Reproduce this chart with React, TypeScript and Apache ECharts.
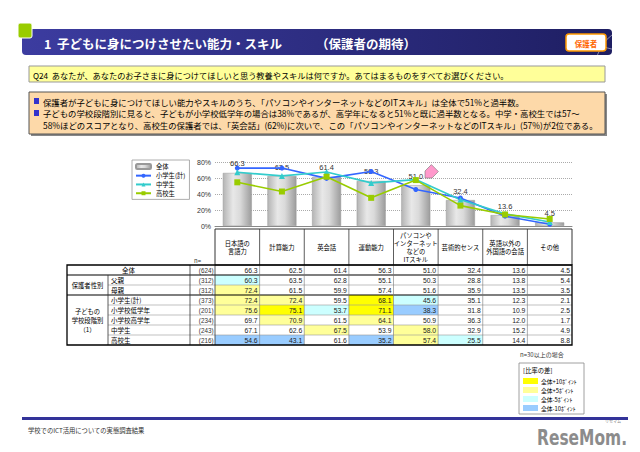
import React, { useEffect, useRef } from 'react';
import * as echarts from 'echarts';

// ---------- data ----------
const categories = [
  '日本語の\n言語力',
  '計算能力',
  '英会話',
  '運動能力',
  'パソコンや\nインターネット\nなどの\nITスキル',
  '芸術的センス',
  '英語以外の\n外国語の会話',
  'その他',
];
const totalValues = [66.3, 62.5, 61.4, 56.3, 51.0, 32.4, 13.6, 4.5];
const fatherValues = [60.3, 63.5, 62.8, 55.1, 50.3, 28.8, 13.8, 5.4];
const motherValues = [72.4, 61.5, 59.9, 57.4, 51.6, 35.9, 13.5, 3.5];
const elementaryValues = [72.4, 72.4, 59.5, 68.1, 45.6, 35.1, 12.3, 2.1];
const lowerElementaryValues = [75.6, 75.1, 53.7, 71.1, 38.3, 31.8, 10.9, 2.5];
const upperElementaryValues = [69.7, 70.9, 61.5, 64.1, 50.9, 36.3, 12.0, 1.7];
const juniorHighValues = [67.1, 62.6, 67.5, 53.9, 58.0, 32.9, 15.2, 4.9];
const highSchoolValues = [54.6, 43.1, 61.6, 35.2, 57.4, 25.5, 14.4, 8.8];

const rowLabels = ['全体', '父親', '母親', '小学生(計)', '小学校低学年', '小学校高学年', '中学生', '高校生'];
const rowCounts = ['(624)', '(312)', '(312)', '(373)', '(201)', '(234)', '(243)', '(216)'];
const rowValues = [
  totalValues,
  fatherValues,
  motherValues,
  elementaryValues,
  lowerElementaryValues,
  upperElementaryValues,
  juniorHighValues,
  highSchoolValues,
];
const seriesNames = ['全体', '小学生(計)', '中学生', '高校生'];
const yTicks = [0, 20, 40, 60, 80];
const diffLegend = ['全体+10ﾎﾟｲﾝﾄ', '全体+5ﾎﾟｲﾝﾄ', '全体-5ﾎﾟｲﾝﾄ', '全体-10ﾎﾟｲﾝﾄ'];

// ---------- style ----------
const JP = '"Noto Sans CJK JP", "Noto Sans", sans-serif';
const NUM = '"Liberation Sans", Arial, sans-serif';
const C_Y10 = '#FFFF00';
const C_Y5 = '#FFFF99';
const C_B5 = '#CCFFFF';
const C_B10 = '#99CCFF';
const diffColors = [C_Y10, C_Y5, C_B5, C_B10];

function buildOption() {
  const g: any[] = [];
  const rect = (x: number, y: number, w: number, h: number, style: any, extra: any = {}) =>
    g.push({ type: 'rect', shape: { x, y, width: w, height: h, r: extra.r || 0 }, style, silent: true, z: extra.z || 0 });
  const line = (x1: number, y1: number, x2: number, y2: number, stroke: string, lw: number, z = 1) =>
    g.push({ type: 'line', shape: { x1, y1, x2, y2 }, style: { stroke, lineWidth: lw }, silent: true, z });
  const text = (x: number, y: number, t: string, o: any = {}) =>
    g.push({
      type: 'text',
      x,
      y,
      scaleX: o.scaleX || 1,
      silent: true,
      z: o.z || 2,
      style: {
        text: t,
        fontSize: o.size || 8,
        fontFamily: o.font || JP,
        fontWeight: o.weight || 'normal',
        fill: o.fill || '#000',
        align: o.align || 'left',
        verticalAlign: o.valign || 'middle',
        lineHeight: o.lh,
      },
    });

  // ---- title bar ----
  rect(22, 29, 590, 26, {
    fill: new echarts.graphic.LinearGradient(0, 0, 1, 0, [
      { offset: 0, color: '#3C3CA0' },
      { offset: 1, color: '#1E1E62' },
    ]),
  }, { r: 4 });
  g.push({ type: 'arc', shape: { cx: 640, cy: 70, r: 45, startAngle: Math.PI * 1.05, endAngle: Math.PI * 1.3 }, style: { stroke: 'rgba(255,255,255,0.6)', lineWidth: 0.8, fill: 'none' }, silent: true, z: 1 });
  g.push({ type: 'arc', shape: { cx: 620, cy: 10, r: 40, startAngle: Math.PI * 0.55, endAngle: Math.PI * 0.75 }, style: { stroke: 'rgba(255,255,255,0.6)', lineWidth: 0.8, fill: 'none' }, silent: true, z: 1 });
  rect(18, 23, 14, 15, { fill: '#99CC00', stroke: '#fff', lineWidth: 1 }, { r: 2, z: 1 });
  text(44, 43, '1', { size: 12.5, weight: 'bold', fill: '#fff' });
  text(57, 43, '子どもに身につけさせたい能力・スキル', { size: 12.5, weight: 'bold', fill: '#fff' });
  text(316, 43, '（保護者の期待）', { size: 12.5, weight: 'bold', fill: '#fff' });
  rect(566, 34, 40, 17, { fill: '#fff', stroke: '#FF9900', lineWidth: 1.5 }, { r: 3, z: 1 });
  text(586, 43, '保護者', { size: 7.5, weight: 'bold', fill: '#FF6600', align: 'center' });

  // ---- question box ----
  rect(29, 66, 576, 16, { fill: '#FFFF99', stroke: '#999', lineWidth: 1 });
  text(33, 74.5, 'Q24  あなたが、あなたのお子さまに身につけてほしいと思う教養やスキルは何ですか。あてはまるものをすべてお選びください。', { size: 8.2 });

  // ---- summary box ----
  rect(31, 94, 576, 42, { fill: '#888' });
  rect(29, 92, 576, 42, { fill: '#FDD9A9', stroke: '#555', lineWidth: 1 }, { z: 1 });
  rect(34, 98, 5, 6, { fill: '#3333CC' }, { z: 2 });
  rect(34, 110, 5, 6, { fill: '#3333CC' }, { z: 2 });
  text(43, 101.5, '保護者が子どもに身につけてほしい能力やスキルのうち、「パソコンやインターネットなどのITスキル」は全体で51%と過半数。', { size: 8.4 });
  text(43, 113, '子どもの学校段階別に見ると、子どもが小学校低学年の場合は38%であるが、高学年になると51%と既に過半数となる。中学・高校生では57～', { size: 8.4 });
  text(43, 124.5, '58%ほどのスコアとなり、高校生の保護者では、「英会話」(62%)に次いで、この「パソコンやインターネットなどのITスキル」(57%)が2位である。', { size: 8.4 });

  // ---- pink arrow ----
  g.push({
    type: 'polygon',
    shape: { points: [[425, 178], [432, 178], [438.4, 171.6], [431.4, 164.6], [425, 171]] },
    style: { fill: '#FF99CC', stroke: '#777', lineWidth: 0.6 },
    silent: true,
    z: 10,
  });

  // ---- table ----
  const tL = 67, tG = 108, tN = 190, tD = 215, tR = 572;
  const colW = (tR - tD) / categories.length;
  const hTop = 229, hBot = 265, rowH = 10;
  const tBot = hBot + rowH * rowLabels.length;

  // header
  rect(tD, hTop, tR - tD, hBot - hTop, { fill: '#fff', stroke: '#333', lineWidth: 1 });
  categories.forEach((c, i) => {
    const x = tD + colW * i;
    if (i > 0) line(x, hTop, x, hBot, '#333', 0.8);
    text(x + colW / 2, (hTop + hBot) / 2, c, { size: 6.3, align: 'center', lh: 8 });
  });
  text(194, 260, 'n=', { size: 6, fill: '#333' });

  // cell backgrounds
  rowValues.forEach((vals, r) => {
    const y = hBot + r * rowH;
    vals.forEach((v, i) => {
      const d = v - totalValues[i];
      let fill = '';
      if (r > 0) {
        if (d >= 10) fill = C_Y10;
        else if (d >= 5) fill = C_Y5;
        else if (d <= -10) fill = C_B10;
        else if (d <= -5) fill = C_B5;
      }
      if (fill) rect(tD + colW * i, y, colW, rowH, { fill });
      text(tD + colW * (i + 1) - 2, y + rowH / 2 + 0.5, v.toFixed(1), { size: 6.8, font: NUM, align: 'right', fill: '#222' });
    });
    text(tD - 1.5, y + rowH / 2 + 0.5, rowCounts[r], { size: 6.3, font: NUM, align: 'right', fill: '#333' });
    if (r === 0) text((tL + tN) / 2, y + rowH / 2, rowLabels[r], { size: 6.5, align: 'center' });
    else text(tG + 3, y + rowH / 2, rowLabels[r], { size: 6.5 });
  });
  // group labels
  text((tL + tG) / 2, hBot + rowH * 2, '保護者性別', { size: 6.3, align: 'center' });
  text((tL + tG) / 2, hBot + rowH * 5.5, '子どもの\n学校段階別\n（1）', { size: 6.3, align: 'center', lh: 9 });

  // grid lines
  for (let r = 1; r < rowLabels.length; r++) {
    const y = hBot + r * rowH;
    if (r === 1 || r === 3) line(tL, y, tR, y, '#000', 1.2, 3);
    else line(tG, y, tR, y, '#999', 0.6, 3);
  }
  categories.forEach((_, i) => {
    if (i > 0) line(tD + colW * i, hBot, tD + colW * i, tBot, '#777', 0.6, 3);
  });
  line(tG, hBot + rowH, tG, tBot, '#333', 0.8, 3);
  line(tN, hBot, tN, tBot, '#333', 0.8, 3);
  line(tD, hBot, tD, tBot, '#333', 0.8, 3);
  g.push({ type: 'rect', shape: { x: tL, y: hBot, width: tR - tL, height: tBot - hBot }, style: { fill: 'none', stroke: '#000', lineWidth: 1.3 }, silent: true, z: 4 });
  text(520, tBot + 9, 'n=30以上の場合', { size: 6, fill: '#333' });

  // diff legend
  rect(519, 363, 65, 51, { fill: '#fff', stroke: '#888', lineWidth: 0.8 }, { z: 5 });
  text(523, 370, '[比率の差]', { size: 6.3, z: 6 });
  diffLegend.forEach((t, i) => {
    const y = 378 + i * 9;
    rect(523, y, 15, 6, { fill: diffColors[i] }, { z: 6 });
    text(541, y + 3, t, { size: 5.8, z: 6 });
  });

  // ---- footer ----
  rect(22, 417, 606, 3, { fill: '#333399' }, { z: 4 });
  text(28, 430, '学校でのICT活用についての実態調査結果', { size: 6.3, fill: '#333' });
  text(627, 438, 'ReseMom.', { size: 22, weight: 'bold', font: '"Liberation Sans Narrow", "DejaVu Sans Condensed", sans-serif', fill: '#8C8C8C', align: 'right', scaleX: 0.78 });
  text(613, 421, 'リセマム', { size: 4, fill: '#888', align: 'center' });

  const lineSeries = (name: string, data: number[], color: string, symbol: string, size: number) => ({
    name,
    type: 'line',
    data,
    symbol,
    symbolSize: size,
    z: 5,
    lineStyle: { color, width: 1.6 },
    itemStyle: { color },
  });

  return {
    animation: false,
    textStyle: { fontFamily: JP },
    grid: { left: 215, right: 68, top: 162, bottom: 226 },
    legend: {
      data: seriesNames,
      orient: 'vertical',
      left: 132,
      top: 160,
      selectedMode: false,
      backgroundColor: '#fff',
      borderColor: '#999',
      borderWidth: 0.8,
      padding: [3, 4, 3, 3],
      itemGap: 2.5,
      itemWidth: 15,
      itemHeight: 5,
      textStyle: { fontSize: 6.3, fontFamily: JP, color: '#000' },
    },
    xAxis: {
      type: 'category',
      data: categories,
      axisLabel: { show: false },
      axisTick: { show: false },
      axisLine: { lineStyle: { color: '#888', width: 1 } },
    },
    yAxis: {
      type: 'value',
      min: yTicks[0],
      max: yTicks[yTicks.length - 1],
      interval: 20,
      axisLabel: { formatter: '{value}%', fontSize: 7, color: '#333', margin: 4, fontFamily: NUM },
      axisLine: { show: false },
      axisTick: { show: false },
      splitLine: { lineStyle: { type: 'dotted', color: '#aaa', width: 1 } },
    },
    series: [
      {
        name: seriesNames[0],
        type: 'bar',
        data: totalValues,
        barWidth: 29,
        z: 2,
        itemStyle: {
          color: new echarts.graphic.LinearGradient(0, 0, 1, 0, [
            { offset: 0, color: '#B4B4B4' },
            { offset: 0.35, color: '#E8E8E8' },
            { offset: 0.6, color: '#DADADA' },
            { offset: 1, color: '#9C9C9C' },
          ]),
          borderColor: '#999',
          borderWidth: 0.5,
        },
        label: {
          show: true,
          position: 'top',
          distance: 5,
          fontSize: 7.5,
          color: '#333',
          fontFamily: NUM,
          formatter: (p: any) => p.value.toFixed(1),
        },
      },
      lineSeries(seriesNames[1], elementaryValues, '#3366FF', 'circle', 5),
      lineSeries(seriesNames[2], juniorHighValues, '#33CCCC', 'triangle', 6),
      lineSeries(seriesNames[3], highSchoolValues, '#99CC00', 'rect', 6),
    ],
    graphic: { elements: g },
  };
}

export default function App() {
  const ref = useRef<HTMLDivElement>(null);
  useEffect(() => {
    if (!ref.current) return;
    const chart = echarts.init(ref.current, null, { renderer: 'svg' });
    chart.setOption(buildOption() as any);
    return () => chart.dispose();
  }, []);
  return (
    <div
      ref={ref}
      style={{ position: 'absolute', left: 0, top: 0, width: 640, height: 452, background: '#fff' }}
    />
  );
}
